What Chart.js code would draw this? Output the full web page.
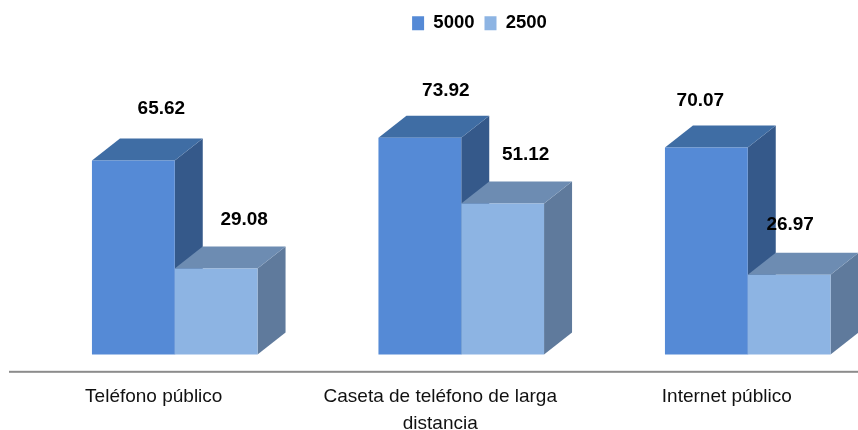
<!DOCTYPE html>
<html><head><meta charset="utf-8">
<style>html,body{margin:0;padding:0;background:#fff;overflow:hidden}#w{position:relative;width:858px;height:430px;overflow:hidden}canvas{display:block}</style>
<script src="https://cdn.jsdelivr.net/npm/chart.js@4"></script></head>
<body><div id="w"><canvas id="c" width="960" height="449"></canvas></div>
<script>
const categories = [["Teléfono público"], ["Caseta de teléfono de larga", "distancia"], ["Internet público"]];
const series5000 = [65.62, 73.32, 70.07];
const series2500 = [29.08, 51.12, 26.97];
const seriesNames = ["5000", "2500"];
const labels5000 = ["65.62", "73.92", "70.07"];
const labels2500 = ["29.08", "51.12", "26.97"];

const depthX = 28, depthY = 22;
const faces = [
  {front:"#558ad6", top:"#3f6da4", side:"#35598a"},
  {front:"#8db4e3", top:"#6d8cb2", side:"#5f7a9c"}
];
const valueLabels = [labels5000, labels2500];
const labelShiftX = [[28, 26, -6], [28, 23, 1]];
const labelShiftY = [[-52, -47, -47], [-49, -49, -50]];
const FONT = "'Liberation Sans', Arial, sans-serif";

const threeD = {
  id:"threeD",
  afterLayout(chart){
    chart.legend.left += 18.25;
    chart.legend.right += 18.25;
  },
  beforeDatasetsDraw(chart){
    const ctx = chart.ctx;
    [0,1].forEach(i=>{
      chart.getDatasetMeta(i).data.forEach(b=>{
        const l=b.x-b.width/2, r=b.x+b.width/2, t=b.y, bt=b.base, f=faces[i];
        ctx.fillStyle=f.side; ctx.beginPath();
        ctx.moveTo(r,t); ctx.lineTo(r+depthX,t-depthY); ctx.lineTo(r+depthX,bt-depthY); ctx.lineTo(r,bt); ctx.closePath(); ctx.fill();
        ctx.fillStyle=f.top; ctx.beginPath();
        ctx.moveTo(l,t); ctx.lineTo(l+depthX,t-depthY); ctx.lineTo(r+depthX,t-depthY); ctx.lineTo(r,t); ctx.closePath(); ctx.fill();
      });
    });
    const y=chart.chartArea.bottom;
    ctx.fillStyle="#8c8c8c";
    ctx.fillRect(9,y-1,chart.width-9,2);
  },
  afterDatasetsDraw(chart){
    const ctx = chart.ctx;
    ctx.save();
    ctx.font="bold 19px "+FONT;
    ctx.fillStyle="#000"; ctx.textAlign="center"; ctx.textBaseline="middle";
    [0,1].forEach(i=>chart.getDatasetMeta(i).data.forEach((b,k)=>{
      ctx.fillText(valueLabels[i][k], b.x+labelShiftX[i][k], b.y+labelShiftY[i][k]);
    }));
    ctx.restore();
  }
};

new Chart(document.getElementById("c"),{
  type:"bar",
  data:{labels:categories,datasets:[
    {label:seriesNames[0],data:series5000,backgroundColor:faces[0].front,borderWidth:0,barPercentage:1,categoryPercentage:0.578},
    {label:seriesNames[1],data:series2500,backgroundColor:faces[1].front,borderWidth:0,barPercentage:1,categoryPercentage:0.578}
  ]},
  options:{
    responsive:false,animation:false,
    layout:{padding:{left:31.5,right:69,top:4,bottom:0}},
    plugins:{
      tooltip:{enabled:false},
      legend:{display:true,position:"top",align:"center",
        labels:{boxWidth:12,boxHeight:14,padding:10,color:"#000",font:{family:FONT,size:18.5,weight:"bold"}}}
    },
    scales:{
      x:{grid:{display:false,drawTicks:false},border:{display:false},
        ticks:{color:"#111",padding:12,labelOffset:-21,maxRotation:0,autoSkip:false,font:{family:FONT,size:19,lineHeight:1.4}}},
      y:{display:false,min:-5.9,max:105.6}
    }
  },
  plugins:[threeD]
});
</script></body></html>
